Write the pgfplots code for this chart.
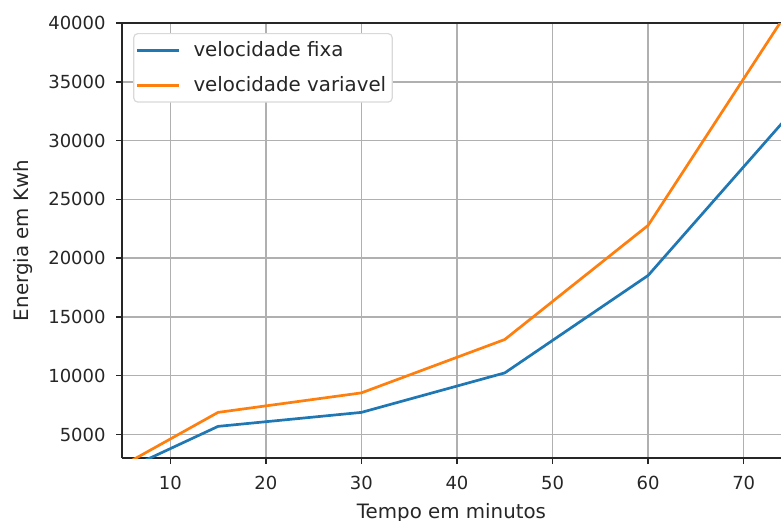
\documentclass[border=0pt]{standalone}
\usepackage{pgfplots}
\pgfplotsset{compat=1.18}
\usepackage{fontspec}
\setmainfont{DejaVu Sans}
\definecolor{mblue}{HTML}{1F77B4}
\definecolor{morange}{HTML}{FF7F0E}
\definecolor{mgrid}{HTML}{B0B0B0}
\definecolor{mtext}{HTML}{262626}
\begin{document}
\fontsize{9}{11}\selectfont
\begin{tikzpicture}
\useasboundingbox (-61pt,-31pt) rectangle (329.5pt,229pt);
\begin{axis}[
  at={(0,0)}, anchor=south west,
  scale only axis,
  width=329.5pt, height=217.5pt,
  xmin=4.95, xmax=73.9,
  ymin=3000, ymax=40000,
  xtick={10,20,30,40,50,60,70},
  ytick={5000,10000,15000,20000,25000,30000,35000,40000},
  scaled ticks=false,
  separate axis lines,
  axis x line*=box,
  axis y line*=left,
  xtick pos=bottom,
  ytick pos=left,
  tick align=outside,
  major tick length=3pt,
  tick style={line width=0.72pt, black!85},
  axis line style={line width=0.72pt, black!85, -},
  grid=major,
  major grid style={line width=0.72pt, mgrid},
  /pgf/number format/assume math mode=true,
  /pgf/number format/1000 sep={},
  ticklabel style={font=\fontsize{9}{11}\selectfont, text=mtext},
  xticklabel style={yshift=-3pt},
  yticklabel style={xshift=-2pt},
  xlabel={Tempo em minutos},
  ylabel={Energia em Kwh},
  label style={font=\fontsize{9.9}{12}\selectfont, text=mtext},
  xlabel style={yshift=-0.5pt},
  ylabel style={yshift=1.5pt},
  legend style={
    at={(0.017,0.977)}, anchor=north west,
    draw=black!15, rounded corners=2pt, line width=0.6pt,
    font=\fontsize{9.9}{12}\selectfont, text=mtext,
    inner xsep=1pt, inner ysep=2pt,
    row sep=4.5pt,
    cells={anchor=west},
  },
  legend image code/.code={\draw[#1, line width=1.35pt] (0pt,0pt) -- (21pt,0pt); \path (25.5pt,0pt);},
]
\addplot[mblue, line width=1.35pt] coordinates {
  (5,1900) (15,5690) (30,6880) (45,10240) (60,18530) (75,32400)
};
\addlegendentry{velocidade fixa}
\addplot[morange, line width=1.35pt] coordinates {
  (5,2350) (15,6880) (30,8540) (45,13080) (60,22790) (75,41500)
};
\addlegendentry{velocidade variavel}
\end{axis}
\end{tikzpicture}
\end{document}
